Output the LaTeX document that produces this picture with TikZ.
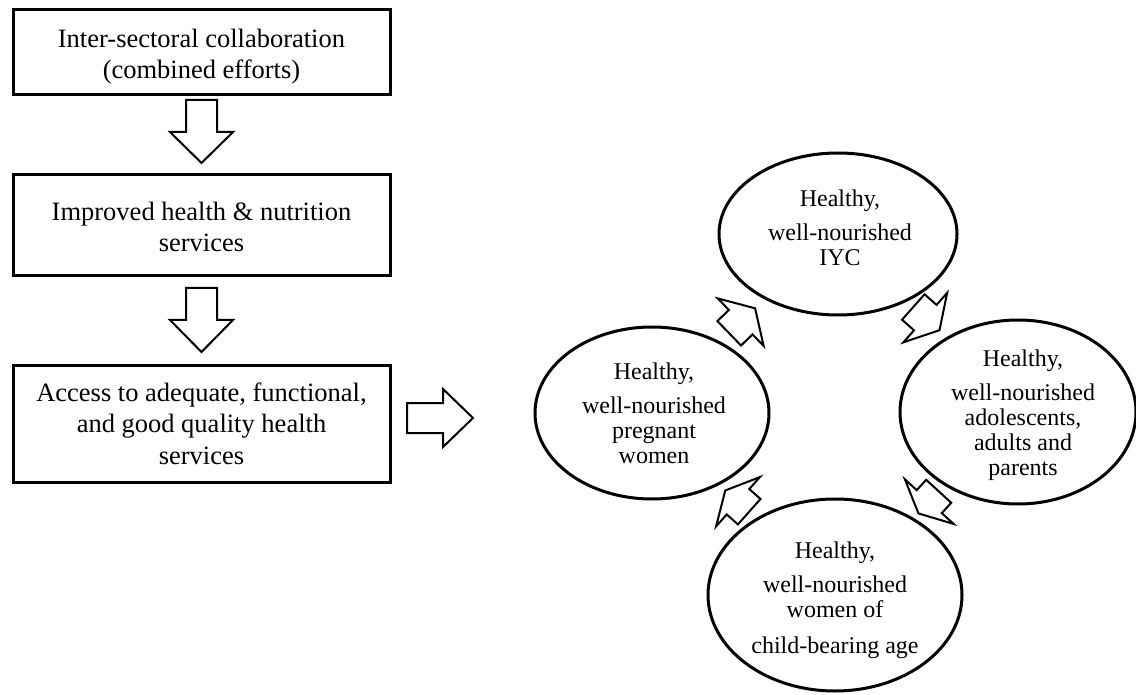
\documentclass[tikz,border=0pt]{standalone}
\usepackage{fontspec}
\setmainfont{Liberation Serif}
\usetikzlibrary{shapes.geometric}
\begin{document}
\begin{tikzpicture}[x=1pt,y=-1pt,
  box/.style={draw, line width=3pt, rectangle, minimum width=377pt, inner sep=0pt},
  btext/.style={align=center, inner sep=0pt, font=\fontsize{26.5}{31.5}\selectfont},
  ell/.style={draw, line width=3pt, ellipse, inner sep=0pt},
  etext/.style={align=center, inner sep=0pt, font=\fontsize{24}{25}\selectfont},
  arrowline/.style={draw, line width=2pt, line join=miter, fill=white},
  % hollow block arrow: total length, shaft width, head width, head length
  pics/blockarrow/.style n args={4}{code={
    \path[arrowline] (0,-#2/2) -- ({#1-#4},-#2/2) -- ({#1-#4},-#3/2) -- (#1,0)
      -- ({#1-#4},#3/2) -- ({#1-#4},#2/2) -- (0,#2/2) -- cycle;
  }}
]
\useasboundingbox (0,0) rectangle (1136,695);

% left column of steps
\node[box, minimum height=85pt]  (b1) at (201.5,52.5) {};
\node[box, minimum height=101pt] (b2) at (201.5,225.5) {};
\node[box, minimum height=117pt] (b3) at (201.5,423.5) {};
\node[btext] (b1t) at ([yshift=-4pt]b1.center)
  {Inter-sectoral collaboration\\(combined efforts)};
\node[btext] (b2t) at ([yshift=-1.5pt]b2.center)
  {Improved health \& nutrition\\services};
\node[btext] (b3t) at (b3.center)
  {Access to adequate, functional,\\and good quality health\\services};

\pic[rotate=-90] (d1) at (201.5,100) {blockarrow={63}{31}{63}{31}};
\pic[rotate=-90] (d2) at (201.5,288) {blockarrow={64}{31}{63}{32}};
\pic (r1) at (407,418) {blockarrow={66}{30}{58}{30}};

% cycle of outcomes
\node[ell, minimum width=238pt, minimum height=162pt] (top)   at (838,234) {};
\node[ell, minimum width=234pt, minimum height=172pt] (left)  at (652,413) {};
\node[ell, minimum width=236pt, minimum height=184pt] (right) at (1018,412) {};
\node[ell, minimum width=254pt, minimum height=192pt] (bot)   at (835,595) {};

\node[etext] (ttop)   at (840,227.5) {Healthy,\\[9pt]well-nourished\\IYC};
\node[etext] (tleft)  at (654,413)   {Healthy,\\[9pt]well-nourished\\pregnant\\women};
\node[etext] (tright) at (1023,415.5){Healthy,\\[9pt]well-nourished\\adolescents,\\adults and\\parents};
\node[etext] (tbot)   at (835,600)   {Healthy,\\[9pt]well-nourished\\women of\\[11pt]child-bearing age};

\pic[rotate=44]     (c1) at (729.2,333.3) {blockarrow={36}{34}{66}{20}};
\pic[rotate=-41.5]  (c2) at (913.3,307)   {blockarrow={35}{34}{66}{19}};
\pic[rotate=-132.5] (c3) at (938.7,491.3) {blockarrow={30}{34}{66}{16}};
\pic[rotate=138.4]  (c4) at (749.2,511.7) {blockarrow={32}{34}{66}{17}};
\end{tikzpicture}
\end{document}
